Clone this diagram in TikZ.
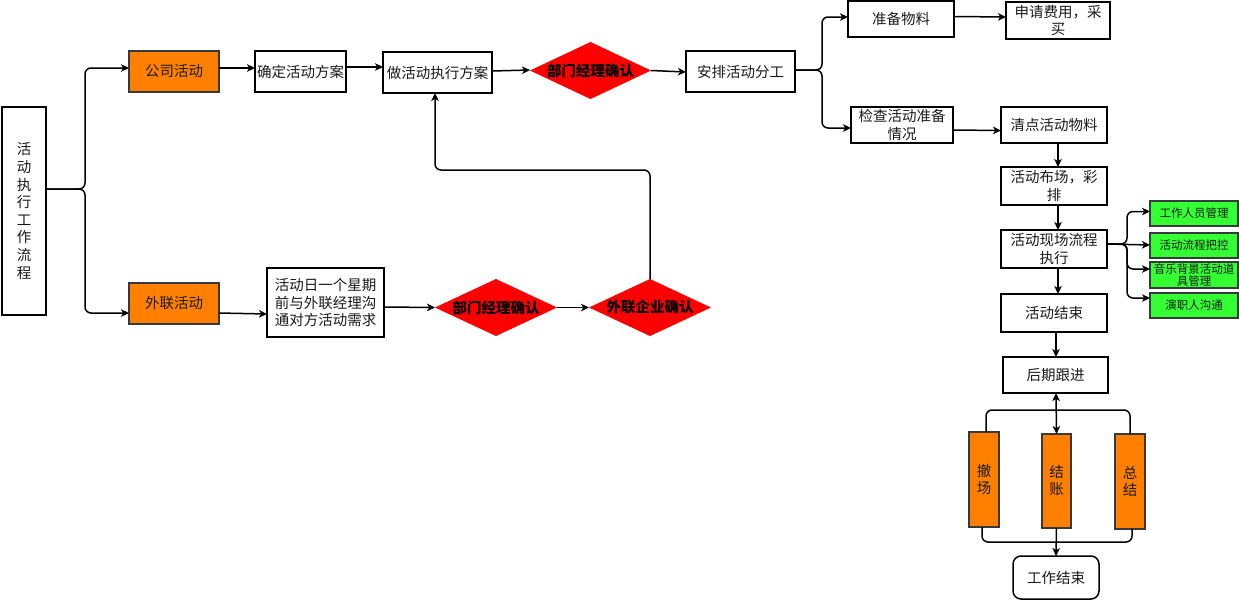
\documentclass[tikz,border=0pt]{standalone}
\usepackage{fontspec}
\setmainfont{Noto Sans CJK SC}
\usetikzlibrary{arrows.meta,shapes.geometric}
\definecolor{orangefill}{HTML}{FF8000}
\definecolor{redfill}{HTML}{FF0000}
\definecolor{greenfill}{HTML}{33FF33}
\definecolor{darkborder}{HTML}{36393D}
\definecolor{txt}{HTML}{1A1A1A}
\begin{document}
\begin{tikzpicture}[x=1pt,y=-1pt,
  every node/.style={inner sep=0pt, outer sep=0pt, align=center, text=txt, font=\fontsize{14.5pt}{17.5pt}\selectfont},
  box/.style={draw=black, line width=1.5pt, fill=white},
  obox/.style={draw=darkborder, line width=1.5pt, fill=orangefill},
  gbox/.style={draw=darkborder, line width=1.5pt, fill=greenfill, font=\fontsize{11.5pt}{12pt}\selectfont},
  dia/.style={diamond, aspect=2.1, fill=redfill, text=black, font=\bfseries\fontsize{14.5pt}{17pt}\selectfont},
  conn/.style={line width=1.5pt, draw=black, rounded corners=6pt},
  arr/.style={conn, -{Stealth[length=8pt,width=7.5pt,inset=2.2pt]}},
  darr/.style={conn, {Stealth[length=8pt,width=7.5pt,inset=2.2pt]}-{Stealth[length=8pt,width=7.5pt,inset=2.2pt]}}
]
\useasboundingbox (0,0) rectangle (1239,600);

% left main box
\node[box, minimum width=44pt, minimum height=208pt, font=\fontsize{14.5pt}{17.6pt}\selectfont] (main) at (24,211) {活\\动\\执\\行\\工\\作\\流\\程};

% top row
\node[obox, minimum width=90pt, minimum height=41pt] (gs) at (174,71.5) {公司活动};
\node[box, minimum width=91pt, minimum height=41pt] (qd) at (300.5,71.5) {确定活动方案};
\node[box, minimum width=109pt, minimum height=41pt] (zh) at (437.5,72.5) {做活动执行方案};
\node[dia, minimum width=121pt, minimum height=57pt] (d1) at (590.5,70.5) {部门经理确认};
\node[box, minimum width=109pt, minimum height=41pt] (ap) at (740.5,71.5) {安排活动分工};

% right top
\node[box, minimum width=106pt, minimum height=36pt] (zb) at (901,19) {准备物料};
\node[box, minimum width=104pt, minimum height=37pt] (sq) at (1058,20.5) {申请费用，采\\买};
\node[box, minimum width=102pt, minimum height=36pt] (jc) at (902,125) {检查活动准备\\情况};
\node[box, minimum width=106pt, minimum height=36pt] (qd2) at (1054,125) {清点活动物料};
\node[box, minimum width=106pt, minimum height=38pt] (bc) at (1054,186) {活动布场，彩\\排};
\node[box, minimum width=106pt, minimum height=38pt] (xc) at (1054,249) {活动现场流程\\执行};
\node[box, minimum width=106pt, minimum height=38pt] (js) at (1054,313) {活动结束};
\node[box, minimum width=105pt, minimum height=36pt] (hq) at (1055.5,375) {后期跟进};

% green boxes
\node[gbox, minimum width=88pt, minimum height=25pt] (g1) at (1194,213.5) {工作人员管理};
\node[gbox, minimum width=88pt, minimum height=25pt] (g2) at (1194,245.5) {活动流程把控};
\node[gbox, minimum width=88pt, minimum height=26pt] (g3) at (1194,275) {音乐背景活动道\\具管理};
\node[gbox, minimum width=88pt, minimum height=25pt] (g4) at (1194,305.5) {演职人沟通};

% bottom right
\node[obox, minimum width=30pt, minimum height=95pt, font=\fontsize{14.5pt}{17pt}\selectfont] (cc) at (984,479.5) {撤\\场};
\node[obox, minimum width=29pt, minimum height=94pt, font=\fontsize{14.5pt}{17pt}\selectfont] (jz) at (1056.5,481) {结\\账};
\node[obox, minimum width=30pt, minimum height=95pt, font=\fontsize{14.5pt}{17pt}\selectfont] (zj) at (1130,481.5) {总\\结};
\node[box, rounded corners=8pt, minimum width=86pt, minimum height=43pt] (gj) at (1056,577.5) {工作结束};

% bottom row
\node[obox, minimum width=90pt, minimum height=41pt] (wl) at (174,303.5) {外联活动};
\node[box, minimum width=117pt, minimum height=69pt] (tb) at (325.5,302.5) {活动日一个星期\\前与外联经理沟\\通对方活动需求};
\node[dia, minimum width=122pt, minimum height=57pt] (d2) at (496,307.5) {部门经理确认};
\node[dia, minimum width=122pt, minimum height=57pt] (d3) at (650,307.5) {外联企业确认};

% connectors left
\draw[arr] ([yshift=22pt]main.east) -- (85,189) |- ([yshift=3.5pt]gs.west);
\draw[arr] ([yshift=22pt]main.east) -- (85,189) |- ([yshift=-9.5pt]wl.west);
\draw[arr] ([yshift=3.5pt]gs.east) -- ([yshift=3.5pt]qd.west);
\draw[arr] ([yshift=4.5pt]qd.east) -- ([yshift=5.5pt]zh.west);
\draw[arr] ([yshift=1.5pt]zh.east) -- ([yshift=0.5pt]d1.west);
\draw[arr] (d1.east) -- ([yshift=-0.5pt]ap.west);

% right branch
\draw[arr] ([yshift=1.5pt]ap.east) -- (822,70) |- ([yshift=2pt]zb.west);
\draw[arr] ([yshift=1.5pt]ap.east) -- (822,70) |- ([yshift=-3pt]jc.west);
\draw[arr] ([yshift=2.5pt]zb.east) -- ([yshift=3.5pt]sq.west);
\draw[arr] ([yshift=-5pt]jc.east) -- ([yshift=-5.5pt]qd2.west);
\draw[arr] ([xshift=4pt]qd2.south) -- ([xshift=4pt]bc.north);
\draw[arr] ([xshift=4pt]bc.south) -- ([xshift=4pt]xc.north);
\draw[arr] ([xshift=4pt]xc.south) -- ([xshift=4pt]js.north);
\draw[arr] ([xshift=2pt]js.south) -- ([xshift=0.5pt]hq.north);

% green branch
\draw[arr] ([yshift=5pt]xc.east) -- (1127,244) |- ([yshift=2pt]g1.west);
\draw[arr] ([yshift=5pt]xc.east) -- ([yshift=0.5pt]g2.west);
\draw[arr] ([yshift=5pt]xc.east) -- (1127,244) |- ([yshift=6pt]g3.west);
\draw[arr] ([yshift=5pt]xc.east) -- (1127,244) |- ([yshift=7.5pt]g4.west);

% bottom right group
\draw[darr] ([xshift=0.5pt]hq.south) -- (jz.north);
\draw[conn] ([xshift=2pt]cc.north) -- ++(0,-22) -| (zj.north);
\draw[conn] ([xshift=-2pt]cc.south) -- ++(0,15) -| ([xshift=2pt]zj.south);
\draw[arr] (jz.south) -- (gj.north);

% bottom row connectors
\draw[arr] ([yshift=-9.5pt]wl.east) -- ([yshift=-11.5pt]tb.west);
\draw[arr] ([yshift=-4.5pt]tb.east) -- (d2.west);
\draw[arr] (d2.east) -- (d3.west);
\draw[arr] (d3.north) -- ++(0,-109) -| ([xshift=-2.5pt]zh.south);
\end{tikzpicture}
\end{document}
